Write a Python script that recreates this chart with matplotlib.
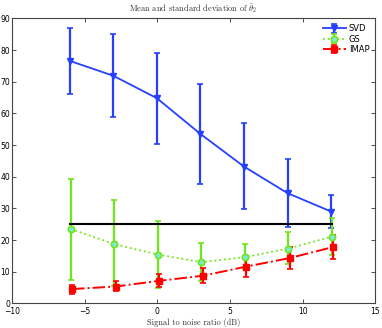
import numpy as np
import matplotlib
matplotlib.use('Agg')
import matplotlib.pyplot as plt

snr = np.array([-6, -3, 0, 3, 6, 9, 12])

svd_mean = [76.6, 71.9, 64.8, 53.5, 43.2, 34.8, 29.0]
svd_low = [66.1, 59.0, 50.4, 37.7, 29.7, 24.2, 23.7]
svd_high = [86.9, 85.0, 79.0, 69.3, 56.9, 45.5, 34.2]

gs_mean = [23.5, 18.7, 15.4, 13.0, 14.6, 17.3, 21.1]
gs_low = [7.3, 5.5, 4.8, 7.2, 10.7, 12.5, 15.2]
gs_high = [39.3, 32.7, 25.9, 19.0, 18.7, 22.4, 26.8]

imap_mean = [4.5, 5.3, 7.1, 8.7, 11.6, 14.3, 17.8]
imap_low = [3.0, 3.8, 5.0, 6.4, 8.4, 10.7, 14.0]
imap_high = [5.8, 6.9, 9.2, 11.2, 15.0, 17.8, 21.6]

true_value = 25

plt.rcParams['mathtext.fontset'] = 'cm'
plt.rcParams['axes.formatter.use_mathtext'] = False

fig = plt.figure(figsize=(3.82, 3.28), dpi=100)
ax = fig.add_axes([0.032, 0.0753, 0.95, 0.8683])

blue = '#2541ff'
green = '#6fe61a'
red = '#ff0000'


def err(m, lo, hi):
    m = np.array(m)
    return [m - np.array(lo), np.array(hi) - m]


ax.errorbar(snr - 0.03, svd_mean, yerr=err(svd_mean, svd_low, svd_high), color=blue,
            lw=1.3, elinewidth=1.6, capsize=2.2, capthick=1.2, marker='v', ms=4.5,
            label='SVD', zorder=3)
ax.errorbar(snr + 0.03, gs_mean, yerr=err(gs_mean, gs_low, gs_high), color=green,
            ls=':', lw=1.3, elinewidth=1.6, capsize=2.2, capthick=1.2, marker='o', ms=4.5,
            mfc='#7fe8d8', mec=green, mew=1.2, label='GS', zorder=3)
ax.errorbar(snr + 0.12, imap_mean, yerr=err(imap_mean, imap_low, imap_high), color=red,
            ls='-.', lw=1.4, elinewidth=1.6, capsize=2.2, capthick=1.2, marker='s', ms=4,
            label='IMAP', zorder=3)
ax.plot([snr[0], snr[-1]], [true_value, true_value], color='black', lw=1.5, zorder=4)

ax.set_xlim(-10, 15)
ax.set_ylim(0, 90)
ax.set_xticks(np.arange(-10, 16, 5))
ax.set_yticks(np.arange(0, 91, 10))
ax.set_xticklabels(['\u221210', '\u22125', '0', '5', '10', '15'])
ax.tick_params(direction='in', length=3, width=0.6, labelsize=5.5, pad=1.5,
               top=True, right=True, colors='#333333', labelcolor='black')
ax.tick_params(axis='x', pad=2.5)
for s in ax.spines.values():
    s.set_linewidth(0.8)
    s.set_color('#444444')

ax.set_title(r'Mean and standard deviation of $\hat{\theta}_2$', fontsize=6,
             fontname='cmr10', pad=5, color='#333333')
ax.set_xlabel('Signal to noise ratio (dB)', fontsize=6, fontname='cmr10',
              labelpad=1.5, color='#333333')

leg = ax.legend(loc='upper right', fontsize=6, frameon=False, handlelength=2.8,
                borderaxespad=0.3, labelspacing=0.15, handletextpad=0.3)

fig.savefig('out.png', dpi=100)
